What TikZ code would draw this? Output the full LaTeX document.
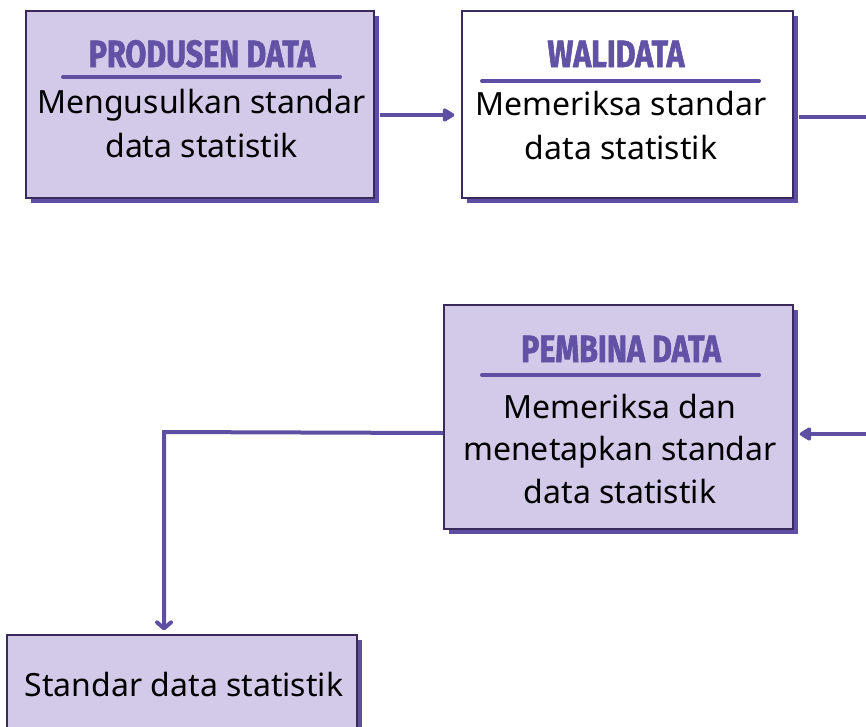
\documentclass[tikz,border=0pt]{standalone}
\usepackage{fontspec}
\setmainfont{Noto Sans}
\newfontfamily\titlefont{Fira Sans}[FakeStretch=0.8,FakeBold=1.5]
\usetikzlibrary{arrows.meta,shadows}
\definecolor{boxfill}{HTML}{D3C9E8}
\definecolor{shade}{HTML}{5E4FA2}
\definecolor{edge}{HTML}{3A2A5C}
\definecolor{ttl}{HTML}{6152A5}
\begin{document}
\begin{tikzpicture}[x=1pt,y=-1pt,
  box/.style={draw=edge,line width=1.3pt,inner sep=0pt,
    drop shadow={shadow xshift=5pt,shadow yshift=-5pt,fill=shade,opacity=1}},
  ttltext/.style={anchor=base,inner sep=0pt,text=ttl,font=\titlefont\bfseries\fontsize{38}{38}\selectfont},
  bodytext/.style={anchor=base,inner sep=0pt,text=black,font=\fontsize{32}{36}\selectfont},
  rule/.style={draw=shade,line width=4pt,line cap=round},
  conn/.style={draw=shade,line width=4pt},
  arr/.style={conn,-{Triangle[length=13pt,width=15pt,round]}},
  varr/.style={conn,-{Straight Barb[length=6pt,width=14pt,round]}}]
\path[use as bounding box] (0,0) rectangle (866,726);
\clip (0,0) rectangle (866,726);
% boxes
\node[box,fill=boxfill,minimum width=348pt,minimum height=187pt] (prod) at (200,104.5) {};
\node[box,fill=white,minimum width=331pt,minimum height=187pt] (wali) at (627.5,104.5) {};
\node[box,fill=boxfill,minimum width=349pt,minimum height=224pt] (pemb) at (618.5,417) {};
\node[box,fill=boxfill,minimum width=350pt,minimum height=150pt] (std) at (182,710) {};
% produsen
\node[ttltext] (prodt) at (202,67) {PRODUSEN DATA};
\coordinate (pr1) at (63,77); \coordinate (pr2) at (340,77);
\draw[rule] (pr1) -- (pr2);
\node[bodytext] (prodb1) at (201.5,113) {Mengusulkan standar};
\node[bodytext] (prodb2) at (201.5,157) {data statistik};
% walidata
\node[ttltext] (walit) at (616,67) {WALIDATA};
\coordinate (wr1) at (482,81); \coordinate (wr2) at (759,81);
\draw[rule] (wr1) -- (wr2);
\node[bodytext] (walib1) at (621,115) {Memeriksa standar};
\node[bodytext] (walib2) at (621,159) {data statistik};
% pembina
\node[ttltext] (pembt) at (621,362) {PEMBINA DATA};
\coordinate (pm1) at (482,375); \coordinate (pm2) at (759,375);
\draw[rule] (pm1) -- (pm2);
\node[bodytext] (pembb1) at (620,418) {Memeriksa dan};
\node[bodytext] (pembb2) at (620,460) {menetapkan standar};
\node[bodytext] (pembb3) at (620,503) {data statistik};
% standar
\node[bodytext] (stdt) at (184,696) {Standar data statistik};
% connectors
\draw[arr] ([shift={(5,10.5)}]prod.east) -- ([shift={(-7,10.5)}]wali.west);
\coordinate (turn) at (900,117);
\draw[arr] ([shift={(5,12.5)}]wali.east) -- (turn) |- ([shift={(6,17)}]pemb.east);
\coordinate (corner) at (164,432);
\draw[varr] ([shift={(0,16)}]pemb.west) -- (corner) -- ([shift={(0,-4)}]std.north -| corner);
\end{tikzpicture}
\end{document}
